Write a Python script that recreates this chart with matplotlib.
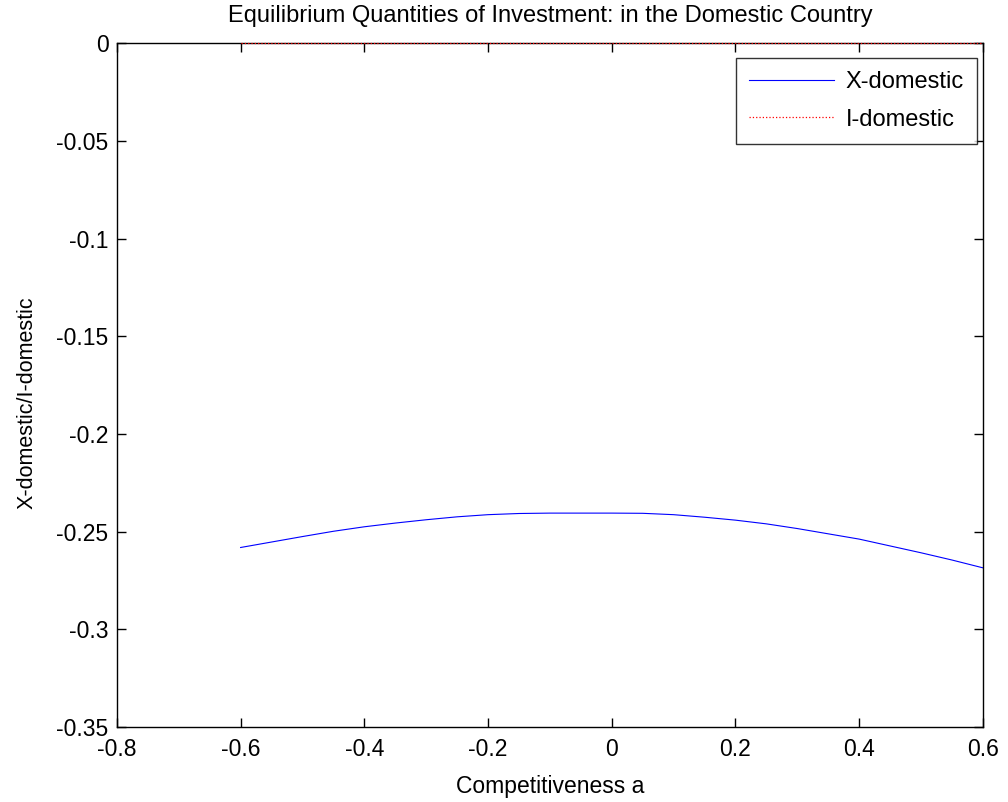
"""Equilibrium quantities of investment in the domestic country (MATLAB-style figure)."""

import matplotlib

matplotlib.use("Agg")
import matplotlib.pyplot as plt

plt.rcParams["font.family"] = ["Liberation Sans", "DejaVu Sans"]

# competitiveness a
a_values = [-0.60, -0.55, -0.50, -0.45, -0.40, -0.35, -0.30, -0.25, -0.20, -0.15, -0.10, -0.05,
            0.00, 0.05, 0.10, 0.15, 0.20, 0.25, 0.30, 0.35, 0.40, 0.45, 0.50, 0.55, 0.60]
x_domestic = [-0.2581, -0.2553, -0.2525, -0.2498, -0.2475, -0.2456, -0.2439, -0.2424, -0.2413,
              -0.2407, -0.2405, -0.2405, -0.2405, -0.2406, -0.2413, -0.2426, -0.2441, -0.2460,
              -0.2484, -0.2511, -0.2538, -0.2573, -0.2608, -0.2645, -0.2685]
i_domestic = [0.0] * len(a_values)

x_ticks = [-0.8, -0.6, -0.4, -0.2, 0, 0.2, 0.4, 0.6]
x_tick_labels = ["-0.8", "-0.6", "-0.4", "-0.2", "0", "0.2", "0.4", "0.6"]
y_ticks = [-0.35, -0.3, -0.25, -0.2, -0.15, -0.1, -0.05, 0]
y_tick_labels = ["-0.35", "-0.3", "-0.25", "-0.2", "-0.15", "-0.1", "-0.05", "0"]

fig = plt.figure(figsize=(10.08, 8.02), dpi=100)
ax = fig.add_axes([0.116, 0.0935, 0.859, 0.8525])

ax.plot(a_values, x_domestic, color="#0000ff", linewidth=0.8, label="X-domestic")
ax.plot(a_values, i_domestic, color="#ff0000", linewidth=0.9, linestyle=":", label="I-domestic",
        clip_on=False, zorder=3)

ax.set_xlim(-0.8, 0.6)
ax.set_ylim(-0.35, 0)
ax.set_xticks(x_ticks, x_tick_labels)
ax.set_yticks(y_ticks, y_tick_labels)
ax.tick_params(direction="in", top=True, right=True, length=6.5, width=1, labelsize=16.5)
ax.tick_params(axis="x", pad=8)
ax.tick_params(axis="y", pad=6)
for side in ax.spines.values():
    side.set_linewidth(1)

ax.set_title("Equilibrium Quantities of Investment: in the Domestic Country", fontsize=17,
             y=1.0307, pad=0)
ax.set_xlabel("Competitiveness a", fontsize=16.5)
ax.xaxis.set_label_coords(0.5, -0.0702)
ax.set_ylabel("X-domestic/I-domestic", fontsize=15.5)
ax.yaxis.set_label_coords(-0.0918, 0.4737)

leg = ax.legend(loc="upper right", bbox_to_anchor=(0.993, 0.978), fontsize=17, frameon=True,
                fancybox=False, edgecolor="black", handlelength=3.6, borderpad=0.55,
                labelspacing=0.65, handletextpad=0.5, borderaxespad=0)
leg.get_frame().set_linewidth(1)

fig.savefig("out.png", dpi=100)
